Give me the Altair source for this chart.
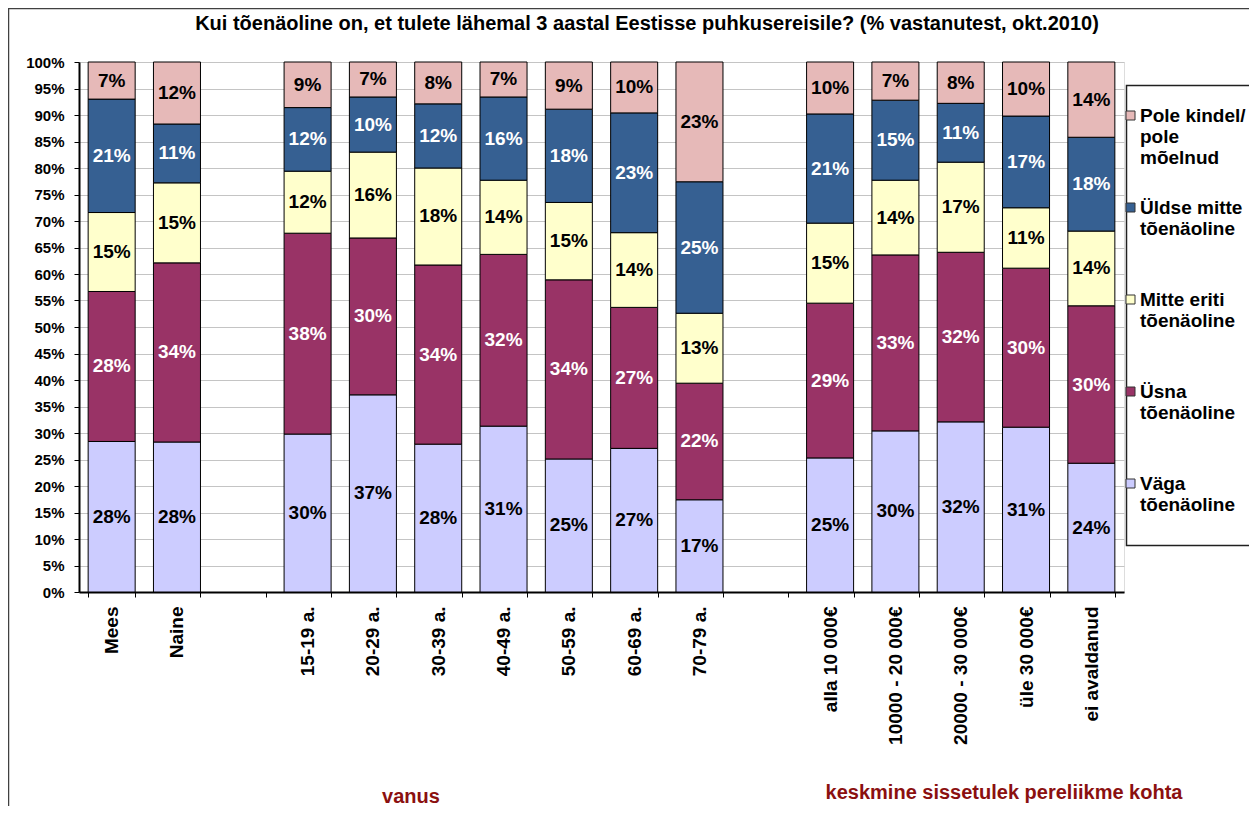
import altair as alt
import pandas as pd

FONT = "Liberation Sans"

# x slots (two blank slots separate the groups)
categories = ["Mees", "Naine", " ", "15-19 a.", "20-29 a.", "30-39 a.", "40-49 a.",
              "50-59 a.", "60-69 a.", "70-79 a.", "  ", "alla 10 000€",
              "10000 - 20 000€", "20000 - 30 000€", "üle 30 000€", "ei avaldanud"]
bars = ["Mees", "Naine", "15-19 a.", "20-29 a.", "30-39 a.", "40-49 a.", "50-59 a.",
        "60-69 a.", "70-79 a.", "alla 10 000€", "10000 - 20 000€", "20000 - 30 000€",
        "üle 30 000€", "ei avaldanud"]

# series, bottom to top
series = ["Väga tõenäoline", "Üsna tõenäoline", "Mitte eriti tõenäoline",
          "Üldse mitte tõenäoline", "Pole kindel/ pole mõelnud"]
vaga = [28.4, 28.3, 29.8, 37.2, 27.9, 31.3, 25.1, 27.1, 17.4, 25.3, 30.4, 32.1, 31.1, 24.3]
usna = [28.3, 33.8, 37.9, 29.6, 33.8, 32.4, 33.8, 26.6, 22.0, 29.2, 33.2, 32.0, 30.0, 29.7]
mitte = [14.9, 15.1, 11.7, 16.2, 18.3, 14.0, 14.6, 14.1, 13.2, 15.1, 14.1, 17.0, 11.4, 14.1]
uldse = [21.4, 11.1, 12.0, 10.4, 12.1, 15.7, 17.6, 22.6, 24.8, 20.6, 15.1, 11.1, 17.3, 17.7]
pole = [7.0, 11.7, 8.6, 6.6, 7.9, 6.6, 8.9, 9.6, 22.6, 9.8, 7.2, 7.8, 10.2, 14.2]

y_ticks = [0, 5, 10, 15, 20, 25, 30, 35, 40, 45, 50, 55, 60, 65, 70, 75, 80, 85, 90, 95, 100]

colors = ["#CCCCFF", "#993366", "#FFFFCC", "#366092", "#E6B9B8"]
text_colors = ["black", "white", "black", "white", "black"]

legend_lines = [["Väga", "tõenäoline", " "],
                ["Üsna", "tõenäoline", " "],
                ["Mitte eriti", "tõenäoline", " "],
                ["Üldse mitte", "tõenäoline", " "],
                ["Pole kindel/", "pole", "mõelnud"]]

title = "Kui tõenäoline on, et tulete lähemal 3 aastal Eestisse puhkusereisile? (% vastanutest, okt.2010)"
group_labels = ["vanus", "keskmine sissetulek pereliikme kohta"]

rows = []
for si, (s, vals) in enumerate(zip(series, [vaga, usna, mitte, uldse, pole])):
    for c, v in zip(bars, vals):
        rows.append({"cat": c, "series": s, "idx": si, "value": v, "tc": text_colors[si]})
df = pd.DataFrame(rows)

# legend label expression
expr = "''"
for s, lines in zip(series, legend_lines):
    arr = "[" + ",".join("'" + l + "'" for l in lines) + "]"
    expr = f"datum.label == '{s}' ? {arr} : ({expr})"

legend_domain = series[::-1]
legend_range = colors[::-1]

x_scale = alt.Scale(domain=categories, paddingInner=0.28, paddingOuter=0.14)
x_axis = alt.Axis(tickBand="extent", labelAngle=270, labelFont=FONT, labelFontSize=19,
                  labelFontWeight="bold", labelColor="black", labelPadding=9,
                  labelOverlap=False, domainColor="black", domainWidth=2,
                  tickColor="black", tickSize=5, tickWidth=1, grid=False)
y_scale = alt.Scale(domain=[0, 100], nice=False)
y_axis = alt.Axis(values=y_ticks, labelExpr="datum.value + '%'",
                  labelFont=FONT, labelFontSize=15, labelFontWeight="bold",
                  labelColor="black", labelPadding=10, labelOverlap=False,
                  domainColor="black", domainWidth=2, tickColor="black",
                  tickSize=5, grid=True, gridColor="#C4C4C4", gridWidth=1)

base = alt.Chart(df).transform_stack(
    stack="value", groupby=["cat"], as_=["y0", "y1"],
    sort=[alt.SortField("idx", order="ascending")]
).transform_calculate(
    mid="(datum.y0 + datum.y1) / 2",
    label="format(datum.value, '.0f') + '%'"
)

bar_layer = base.mark_bar(stroke="black", strokeWidth=1).encode(
    x=alt.X("cat:N", scale=x_scale, title=None, axis=x_axis),
    y=alt.Y("y0:Q", scale=y_scale, title=None, axis=y_axis),
    y2="y1:Q",
    color=alt.Color("series:N", scale=alt.Scale(domain=legend_domain, range=legend_range),
                    legend=alt.Legend(title=None, orient="none", legendX=1039, legendY=44,
                                      direction="vertical", symbolType="square",
                                      symbolSize=81, symbolStrokeColor="#333333",
                                      symbolStrokeWidth=1, symbolOpacity=1, symbolOffset=3,
                                      labelFont=FONT, labelFontSize=19,
                                      labelFontWeight="bold", labelColor="black",
                                      labelBaseline="middle", labelOffset=0,
                                      labelLimit=200, labelExpr=expr, rowPadding=30,
                                      padding=0)),
)

text_layer = base.mark_text(font=FONT, fontSize=19, fontWeight="bold", baseline="middle").encode(
    x=alt.X("cat:N", scale=x_scale, title=None, axis=x_axis),
    y=alt.Y("mid:Q", scale=y_scale, title=None, axis=y_axis),
    text="label:N",
    color=alt.Color("tc:N", scale=None),
)

one = alt.Data(values=[{"a": 0}])
frame = alt.Chart(one).mark_rect(fillOpacity=0, stroke="#404040", strokeWidth=1.5).encode(
    x=alt.value(-70.5), x2=alt.value(1200), y=alt.value(-53.5), y2=alt.value(800))
legend_box = alt.Chart(one).mark_rect(fillOpacity=0, stroke="#202020", strokeWidth=1.5).encode(
    x=alt.value(1047.5), x2=alt.value(1200), y=alt.value(23.5), y2=alt.value(483.5))
title_layer = alt.Chart(one).mark_text(text=title, font=FONT, fontSize=20, fontWeight="bold",
                                       color="black", baseline="middle").encode(
    x=alt.value(568), y=alt.value(-38))
g1 = alt.Chart(one).mark_text(text=group_labels[0], font=FONT, fontSize=20, fontWeight="bold",
                              color="#8B1010", baseline="middle").encode(
    x=alt.value(332), y=alt.value(735))
g2 = alt.Chart(one).mark_text(text=group_labels[1], font=FONT, fontSize=20, fontWeight="bold",
                              color="#8B1010", baseline="middle").encode(
    x=alt.value(925), y=alt.value(731))

chart = alt.layer(bar_layer, text_layer, frame, legend_box, title_layer, g1, g2).properties(
    width=1045, height=530,
    padding={"left": 71, "top": 54, "right": 125, "bottom": 214},
    autosize=alt.AutoSizeParams(type="none"),
).configure_view(stroke="#A0A0A0", strokeWidth=1).configure(font=FONT)

chart.save("out.html", embed_options={"renderer": "svg", "actions": False})
